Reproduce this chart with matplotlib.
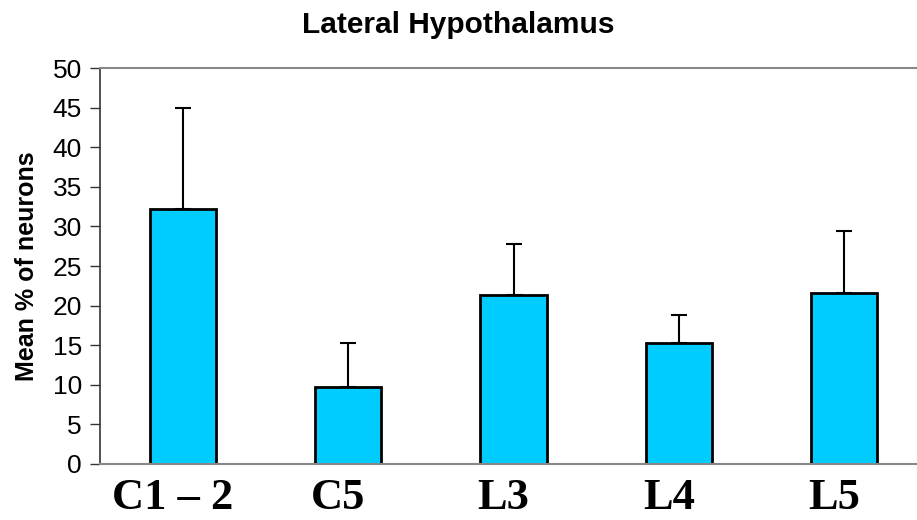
import matplotlib.pyplot as plt
from matplotlib.transforms import ScaledTranslation

categories = ["C1 \u2013 2", "C5", "L3", "L4", "L5"]
means = [32.2, 9.7, 21.3, 15.3, 21.6]
errors = [12.7, 5.6, 6.5, 3.5, 7.8]

fig = plt.figure(figsize=(9.17, 5.2), dpi=100)
ax = fig.add_axes([0.109, 0.1077, 0.902, 0.7613])

x = range(len(categories))
ax.bar(x, means, width=0.4, color="#00CCFF", edgecolor="black", linewidth=2, zorder=2)
ax.errorbar(x, means, yerr=[[0] * len(errors), errors], fmt="none", ecolor="black",
            elinewidth=1.5, capsize=6, capthick=1.5, zorder=1)

ax.set_xlim(-0.5, len(categories) - 0.5)
ax.set_ylim(0, 50)
ax.set_yticks(range(0, 51, 5))
ax.tick_params(axis="y", labelsize=19, length=7, width=1, color="#333333", pad=6)
ax.tick_params(axis="x", length=0, pad=10)
ax.set_xticks(list(x))
ax.set_xticklabels(categories, fontsize=32, fontweight="bold", family="Liberation Serif")
# labels in the original sit a little left of the bar centres
shift = ScaledTranslation(-10 / 100, 0, fig.dpi_scale_trans)
for lbl in ax.get_xticklabels():
    lbl.set_transform(lbl.get_transform() + shift)
for lbl in ax.get_yticklabels():
    lbl.set_family("Liberation Sans")

ax.spines["left"].set_color("#333333")
ax.spines["left"].set_linewidth(1.2)
ax.spines["bottom"].set_color("#888888")
ax.spines["bottom"].set_linewidth(1.5)
ax.spines["top"].set_color("#888888")
ax.spines["top"].set_linewidth(1.5)
ax.spines["right"].set_visible(False)

ax.set_ylabel("Mean % of neurons", fontsize=18, fontweight="bold", family="Liberation Sans", labelpad=10)
fig.text(0.5, 0.9365, "Lateral Hypothalamus", ha="center", va="baseline",
         fontsize=21.5, fontweight="bold", family="Liberation Sans")

fig.savefig("out.png", dpi=100)
